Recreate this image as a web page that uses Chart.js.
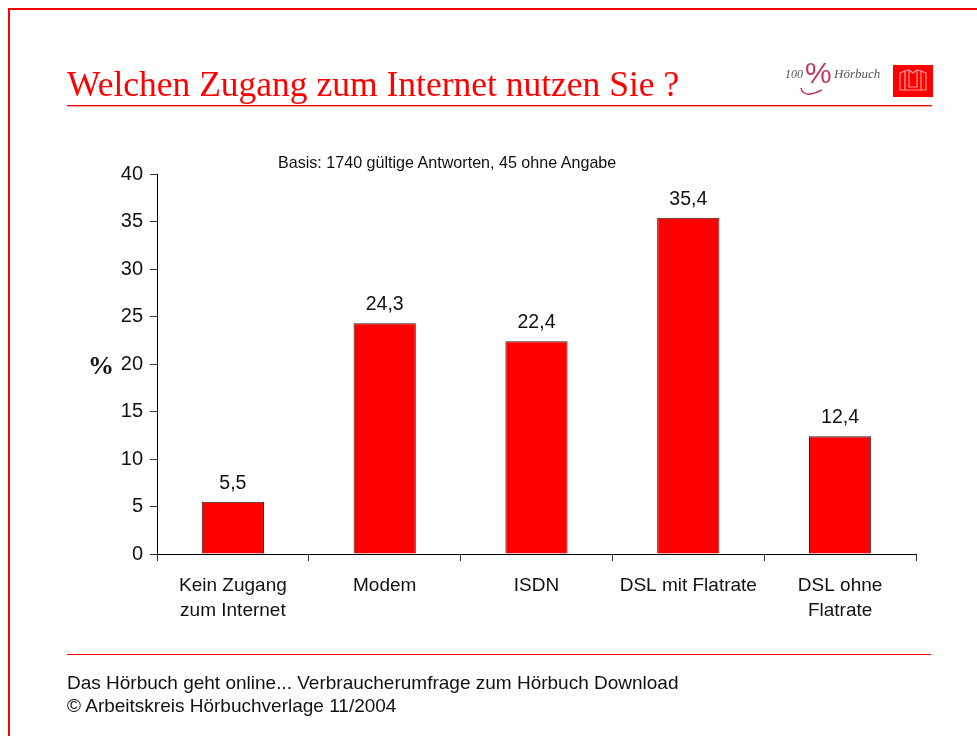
<!DOCTYPE html>
<html lang="de">
<head>
<meta charset="utf-8">
<title>Welchen Zugang zum Internet nutzen Sie ?</title>
<script src="https://cdn.jsdelivr.net/npm/chart.js@4"></script>
<style>
    html, body { margin: 0; padding: 0; background: #fff; overflow: hidden; }
    #slide { position: relative; width: 977px; height: 736px; overflow: hidden; }
    #slide > * { position: absolute; }
    canvas { left: 0; top: 0; }
    .frame { background: #f00; }
    .rule { left: 67px; height: 1px; background: #f00; }
    .txt { white-space: nowrap; font-family: "Liberation Sans", Arial, sans-serif; color: #111; }
    #title { left: 67px; top: 63px; font: 35.5px "Liberation Serif", "Times New Roman", serif; color: #f00; white-space: nowrap; }
</style>
</head>
<body>
<div id="slide">
    <canvas id="accessChart" width="977" height="736"></canvas>
    <div class="frame" style="left:8px;top:8px;width:969px;height:2px"></div>
    <div class="frame" style="left:8px;top:8px;width:2px;height:728px"></div>
    <div id="title">Welchen Zugang zum Internet nutzen Sie ?</div>
    <div class="rule" style="top:105px;width:865px;border-bottom:1px solid #ffa0a0"></div>
    <div class="txt" style="left:278px;top:153px;font-size:16.1px">Basis: 1740 gültige Antworten, 45 ohne Angabe</div>
    <div class="rule" style="top:654px;width:864px"></div>
    <div class="txt" style="left:67px;top:672px;font-size:19px">Das Hörbuch geht online... Verbraucherumfrage zum Hörbuch Download</div>
    <div class="txt" style="left:67px;top:695px;font-size:19px">© Arbeitskreis Hörbuchverlage 11/2004</div>

    <!-- logo -->
    <svg style="left:780px;top:60px" width="155" height="42" viewBox="0 0 155 42">
        <text x="5" y="18" font-family="Liberation Serif" font-style="italic" font-size="12" fill="#555">100</text>
        <text x="25" y="23" font-family="Liberation Sans" font-size="30" fill="#c2385f">%</text>
        <path d="M21 28 Q22 35 31 34 Q36 33 42 30" fill="none" stroke="#c2385f" stroke-width="1.5"/>
        <text x="54" y="18" font-family="Liberation Serif" font-style="italic" font-size="13" fill="#555">Hörbuch</text>
        <rect x="113" y="5" width="40" height="32" fill="#f00"/>
        <path d="M120 13 L125 11 V30 H120 Z M125 11 L129 10 L133 13 L137 10 L141 11 V30 H125 M141 11 L146 13 V30 H141 M129 10 V27 H137 V10" fill="none" stroke="#ff9a9a" stroke-width="1.2"/>
    </svg>
</div>

<script>
// Zugang zum Internet
const categories = [['Kein Zugang', 'zum Internet'], 'Modem', 'ISDN', 'DSL mit Flatrate', ['DSL ohne', 'Flatrate']];
const shares = [5.5, 24.3, 22.4, 35.4, 12.4];

// value labels above the bars, plus the "%" next to the axis
const barLabels = {
    id: 'barLabels',
    afterDatasetsDraw(chart) {
        const ctx = chart.ctx;
        const yScale = chart.scales.y;
        ctx.save();
        ctx.fillStyle = '#111';
        ctx.textAlign = 'center';
        ctx.textBaseline = 'alphabetic';
        ctx.font = '19.5px "Liberation Sans"';
        chart.getDatasetMeta(0).data.forEach(function (bar, i) {
            ctx.fillText(String(shares[i]).replace('.', ','), bar.x, bar.y - 13);
        });
        ctx.font = 'bold 26px "Liberation Serif"';
        ctx.fillText('%', 101, yScale.getPixelForValue(20) + 10);
        ctx.restore();
    }
};

const accessCtx = document.getElementById('accessChart').getContext('2d');
const accessChart = new Chart(accessCtx, {
    type: 'bar',
    data: {
        labels: categories,
        datasets: [{
            data: shares,
            backgroundColor: '#ff0000',
            borderColor: '#222',
            borderWidth: 1,
            barPercentage: 0.41,
            categoryPercentage: 1
        }]
    },
    options: {
        responsive: false,
        animation: false,
        layout: { padding: { top: 174, right: 61, bottom: 0, left: 0 } },
        plugins: { legend: { display: false }, tooltip: { enabled: false } },
        scales: {
            x: {
                afterFit: function (axis) { axis.height = 182; },
                border: { color: '#000', width: 1 },
                grid: { offset: true, drawOnChartArea: false, color: '#333', tickLength: 7 },
                ticks: {
                    color: '#111',
                    maxRotation: 0,
                    autoSkip: false,
                    padding: 12,
                    font: { family: '"Liberation Sans"', size: 19, lineHeight: 1.32 }
                }
            },
            y: {
                min: 0,
                max: 40,
                afterFit: function (axis) { axis.width = 157; },
                border: { color: '#000', width: 1 },
                grid: { drawOnChartArea: false, color: '#333', tickLength: 7 },
                ticks: {
                    stepSize: 5,
                    color: '#111',
                    padding: 7,
                    font: { family: '"Liberation Sans"', size: 20 }
                }
            }
        }
    },
    plugins: [barLabels]
});
</script>
</body>
</html>
